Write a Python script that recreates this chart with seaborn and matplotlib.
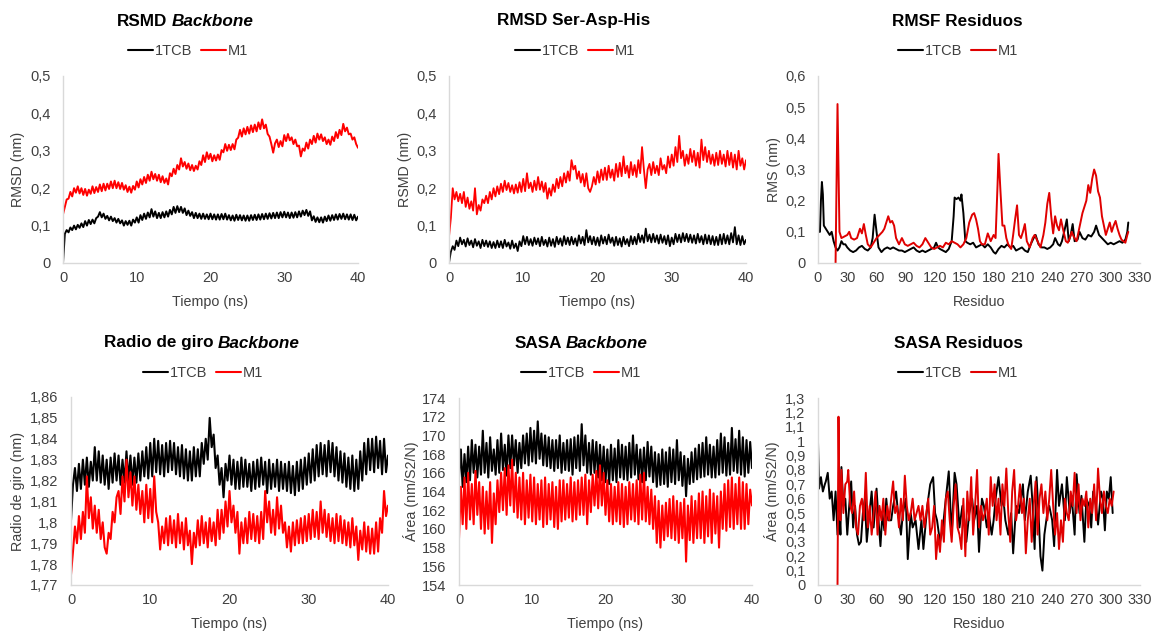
import numpy as np
import pandas as pd
import matplotlib
matplotlib.use("Agg")
import matplotlib.pyplot as plt
from matplotlib.ticker import FuncFormatter, MultipleLocator
from matplotlib.lines import Line2D
import seaborn as sns

sns.set_theme(style="white")
plt.rcParams['font.family'] = ['Liberation Sans', 'DejaVu Sans']

# ---------------- DATA ----------------
series_names = ["1TCB", "M1"]

# RMSD Backbone (nm), sampled every 0.25 ns from 0 to 40 ns
rmsd_bb_1tcb = [
    0.0, 0.078, 0.088, 0.082, 0.095, 0.088, 0.1, 0.09, 0.102, 0.094, 0.106, 0.096,
    0.112, 0.1, 0.115, 0.104, 0.116, 0.106, 0.12, 0.124, 0.136, 0.122, 0.132, 0.118,
    0.126, 0.114, 0.124, 0.112, 0.12, 0.108, 0.118, 0.106, 0.114, 0.1, 0.112, 0.102,
    0.113, 0.1, 0.116, 0.108, 0.122, 0.108, 0.128, 0.115, 0.132, 0.118, 0.135, 0.122,
    0.144, 0.124, 0.138, 0.12, 0.134, 0.12, 0.136, 0.122, 0.138, 0.124, 0.142, 0.13,
    0.15, 0.134, 0.152, 0.136, 0.15, 0.134, 0.146, 0.128, 0.14, 0.126, 0.136, 0.12,
    0.134, 0.12, 0.132, 0.118, 0.132, 0.118, 0.13, 0.117, 0.132, 0.117, 0.13, 0.116,
    0.13, 0.116, 0.131, 0.117, 0.132, 0.116, 0.128, 0.114, 0.127, 0.113, 0.129, 0.115,
    0.128, 0.114, 0.127, 0.113, 0.127, 0.113, 0.128, 0.115, 0.129, 0.115, 0.13, 0.116,
    0.131, 0.117, 0.132, 0.118, 0.133, 0.119, 0.134, 0.12, 0.135, 0.12, 0.136, 0.122,
    0.137, 0.122, 0.135, 0.12, 0.135, 0.121, 0.136, 0.122, 0.138, 0.124, 0.14, 0.128,
    0.142, 0.126, 0.138, 0.114, 0.125, 0.11, 0.122, 0.109, 0.122, 0.108, 0.124, 0.112,
    0.127, 0.113, 0.128, 0.115, 0.13, 0.116, 0.131, 0.118, 0.132, 0.117, 0.13, 0.116,
    0.13, 0.115, 0.129, 0.114, 0.124]
rmsd_bb_m1 = [
    0.13, 0.15, 0.17, 0.172, 0.19, 0.178, 0.2, 0.188, 0.205, 0.186, 0.2, 0.182,
    0.198, 0.18, 0.196, 0.185, 0.205, 0.187, 0.203, 0.19, 0.21, 0.192, 0.212, 0.194,
    0.212, 0.198, 0.218, 0.2, 0.22, 0.2, 0.216, 0.198, 0.214, 0.196, 0.208, 0.19,
    0.204, 0.188, 0.206, 0.196, 0.218, 0.202, 0.224, 0.21, 0.23, 0.214, 0.236, 0.22,
    0.244, 0.224, 0.238, 0.22, 0.236, 0.216, 0.232, 0.214, 0.226, 0.21, 0.24, 0.232,
    0.252, 0.238, 0.262, 0.25, 0.28, 0.258, 0.27, 0.252, 0.266, 0.248, 0.262, 0.246,
    0.26, 0.25, 0.272, 0.262, 0.288, 0.27, 0.296, 0.278, 0.292, 0.272, 0.288, 0.274,
    0.29, 0.276, 0.302, 0.296, 0.318, 0.3, 0.316, 0.302, 0.318, 0.304, 0.33, 0.335,
    0.356, 0.338, 0.36, 0.344, 0.364, 0.346, 0.368, 0.35, 0.37, 0.352, 0.376, 0.358,
    0.384, 0.36, 0.37, 0.345, 0.338, 0.318, 0.295, 0.32, 0.33, 0.31, 0.326, 0.312,
    0.342, 0.326, 0.345, 0.328, 0.336, 0.318, 0.33, 0.312, 0.314, 0.285, 0.306, 0.3,
    0.322, 0.306, 0.33, 0.318, 0.34, 0.322, 0.346, 0.33, 0.344, 0.326, 0.336, 0.318,
    0.33, 0.316, 0.338, 0.326, 0.35, 0.334, 0.356, 0.342, 0.372, 0.352, 0.362, 0.344,
    0.346, 0.33, 0.336, 0.318, 0.308]

# RMSD Ser-Asp-His (nm)
rmsd_sah_1tcb = [
    0.0, 0.03, 0.045, 0.035, 0.06, 0.045, 0.068, 0.05, 0.062, 0.044, 0.066, 0.048,
    0.06, 0.042, 0.064, 0.046, 0.058, 0.04, 0.062, 0.045, 0.06, 0.043, 0.058, 0.04,
    0.056, 0.04, 0.06, 0.042, 0.058, 0.04, 0.062, 0.044, 0.055, 0.038, 0.06, 0.04,
    0.052, 0.032, 0.058, 0.045, 0.072, 0.05, 0.07, 0.048, 0.064, 0.046, 0.068, 0.05,
    0.066, 0.045, 0.07, 0.048, 0.062, 0.044, 0.068, 0.046, 0.064, 0.043, 0.07, 0.05,
    0.066, 0.046, 0.072, 0.05, 0.068, 0.048, 0.07, 0.05, 0.066, 0.046, 0.074, 0.052,
    0.07, 0.048, 0.088, 0.055, 0.072, 0.05, 0.07, 0.048, 0.068, 0.046, 0.074, 0.052,
    0.07, 0.05, 0.076, 0.054, 0.068, 0.046, 0.07, 0.048, 0.066, 0.044, 0.07, 0.05,
    0.064, 0.045, 0.072, 0.05, 0.07, 0.05, 0.078, 0.056, 0.074, 0.054, 0.092, 0.058,
    0.076, 0.055, 0.078, 0.056, 0.074, 0.052, 0.076, 0.054, 0.072, 0.05, 0.074, 0.045,
    0.068, 0.05, 0.078, 0.056, 0.076, 0.055, 0.08, 0.058, 0.078, 0.056, 0.076, 0.054,
    0.074, 0.052, 0.078, 0.055, 0.072, 0.05, 0.076, 0.052, 0.074, 0.05, 0.072, 0.048,
    0.07, 0.048, 0.076, 0.05, 0.078, 0.052, 0.074, 0.05, 0.08, 0.055, 0.096, 0.05,
    0.074, 0.048, 0.072, 0.05, 0.062]
rmsd_sah_m1 = [
    0.07, 0.12, 0.2, 0.17, 0.19, 0.165, 0.185, 0.16, 0.19, 0.15, 0.175, 0.145,
    0.165, 0.14, 0.2, 0.13, 0.155, 0.14, 0.17, 0.16, 0.18, 0.16, 0.19, 0.17,
    0.2, 0.178, 0.205, 0.184, 0.212, 0.19, 0.22, 0.195, 0.214, 0.19, 0.208, 0.186,
    0.21, 0.188, 0.216, 0.19, 0.225, 0.192, 0.24, 0.2, 0.215, 0.19, 0.22, 0.195,
    0.23, 0.196, 0.218, 0.19, 0.214, 0.172, 0.2, 0.18, 0.21, 0.19, 0.225, 0.2,
    0.23, 0.205, 0.24, 0.215, 0.245, 0.22, 0.275, 0.25, 0.26, 0.225, 0.245, 0.215,
    0.238, 0.205, 0.24, 0.2, 0.19, 0.205, 0.23, 0.21, 0.245, 0.215, 0.25, 0.222,
    0.255, 0.222, 0.26, 0.228, 0.25, 0.22, 0.265, 0.23, 0.268, 0.232, 0.285, 0.24,
    0.26, 0.228, 0.27, 0.235, 0.262, 0.23, 0.275, 0.24, 0.31, 0.25, 0.2, 0.25,
    0.265, 0.235, 0.27, 0.24, 0.26, 0.235, 0.28, 0.25, 0.262, 0.24, 0.285, 0.255,
    0.29, 0.26, 0.31, 0.27, 0.34, 0.28, 0.3, 0.26, 0.29, 0.265, 0.305, 0.27,
    0.3, 0.26, 0.295, 0.255, 0.33, 0.275, 0.31, 0.27, 0.3, 0.265, 0.29, 0.26,
    0.295, 0.262, 0.3, 0.265, 0.29, 0.258, 0.3, 0.262, 0.295, 0.255, 0.29, 0.25,
    0.3, 0.26, 0.28, 0.25, 0.275]

# Radio de giro Backbone (nm)
rg_1tcb = [
    1.801, 1.818, 1.826, 1.815, 1.828, 1.816, 1.83, 1.818, 1.831, 1.817, 1.829, 1.82,
    1.836, 1.82, 1.834, 1.819, 1.832, 1.818, 1.83, 1.816, 1.831, 1.819, 1.833, 1.82,
    1.832, 1.818, 1.83, 1.819, 1.834, 1.82, 1.832, 1.818, 1.831, 1.819, 1.833, 1.82,
    1.834, 1.822, 1.836, 1.821, 1.838, 1.822, 1.84, 1.824, 1.839, 1.823, 1.837, 1.822,
    1.838, 1.824, 1.839, 1.825, 1.838, 1.823, 1.836, 1.822, 1.837, 1.821, 1.835, 1.82,
    1.834, 1.82, 1.836, 1.822, 1.835, 1.822, 1.838, 1.828, 1.84, 1.83, 1.85, 1.836,
    1.842, 1.826, 1.832, 1.818, 1.826, 1.812, 1.828, 1.82, 1.832, 1.818, 1.83, 1.816,
    1.829, 1.816, 1.831, 1.817, 1.83, 1.817, 1.828, 1.815, 1.829, 1.816, 1.83, 1.817,
    1.831, 1.818, 1.829, 1.814, 1.83, 1.816, 1.828, 1.817, 1.83, 1.815, 1.829, 1.816,
    1.828, 1.815, 1.829, 1.814, 1.827, 1.813, 1.829, 1.815, 1.83, 1.816, 1.831, 1.818,
    1.833, 1.819, 1.835, 1.82, 1.837, 1.822, 1.838, 1.823, 1.837, 1.822, 1.839, 1.824,
    1.838, 1.822, 1.836, 1.82, 1.834, 1.819, 1.833, 1.817, 1.831, 1.816, 1.832, 1.815,
    1.83, 1.816, 1.834, 1.82, 1.838, 1.823, 1.84, 1.825, 1.84, 1.824, 1.841, 1.826,
    1.839, 1.823, 1.84, 1.824, 1.832]
rg_m1 = [
    1.775, 1.786, 1.798, 1.79, 1.803, 1.792, 1.805, 1.795, 1.822, 1.802, 1.812, 1.797,
    1.808, 1.795, 1.806, 1.792, 1.8, 1.788, 1.785, 1.795, 1.792, 1.805, 1.8, 1.812,
    1.815, 1.804, 1.822, 1.81, 1.83, 1.812, 1.824, 1.808, 1.822, 1.806, 1.818, 1.804,
    1.815, 1.8, 1.818, 1.802, 1.816, 1.8, 1.822, 1.805, 1.8, 1.787, 1.798, 1.79,
    1.802, 1.789, 1.803, 1.79, 1.801, 1.788, 1.804, 1.79, 1.8, 1.787, 1.802, 1.789,
    1.796, 1.78, 1.795, 1.788, 1.801, 1.789, 1.803, 1.79, 1.8, 1.788, 1.802, 1.791,
    1.8, 1.789, 1.806, 1.792, 1.806, 1.795, 1.81, 1.798, 1.815, 1.8, 1.808, 1.795,
    1.805, 1.785, 1.8, 1.79, 1.802, 1.79, 1.805, 1.792, 1.804, 1.791, 1.803, 1.79,
    1.805, 1.792, 1.815, 1.8, 1.81, 1.795, 1.806, 1.794, 1.812, 1.797, 1.808, 1.795,
    1.8, 1.788, 1.798, 1.786, 1.8, 1.789, 1.801, 1.79, 1.802, 1.79, 1.803, 1.791,
    1.804, 1.792, 1.806, 1.793, 1.805, 1.792, 1.81, 1.795, 1.806, 1.793, 1.804, 1.791,
    1.802, 1.79, 1.804, 1.791, 1.803, 1.79, 1.801, 1.789, 1.8, 1.788, 1.802, 1.789,
    1.798, 1.782, 1.796, 1.787, 1.8, 1.786, 1.798, 1.785, 1.797, 1.785, 1.8, 1.786,
    1.802, 1.795, 1.815, 1.803, 1.808]

# SASA Backbone (nm/S2/N)
sasa_bb_1tcb = [
    165.5, 168.5, 164.5, 168, 165, 168.8, 165.2, 169.5, 166, 169, 165.5, 168.8,
    165.8, 170.5, 166, 169.2, 165.5, 169.8, 166.2, 168.5, 165.8, 169.5, 166, 170.2,
    166.3, 169, 165.7, 170, 166.5, 170, 166.8, 169.5, 166, 169.2, 166.5, 170,
    167, 170.2, 166.8, 170.8, 167.2, 170.5, 167, 171.5, 167.5, 170.2, 166.8, 170,
    166.7, 169.8, 166.5, 169.5, 166.2, 169.5, 166.5, 170, 166, 169.2, 166.3, 169.5,
    166.2, 169.6, 165.8, 169.8, 166.5, 170, 166.2, 171.2, 166.8, 170, 166, 169.2,
    165.8, 169.5, 166, 169.3, 165.5, 169, 165.2, 168.8, 165, 168.5, 164.8, 169,
    165.2, 168.6, 165, 169.5, 165.5, 169, 165.3, 168.8, 165.2, 169.2, 165.5, 170,
    165.8, 169, 165.3, 168.5, 165, 168.7, 165.2, 169.3, 165.6, 168.8, 165, 168.2,
    164.5, 168, 164.7, 168.5, 164.8, 168.2, 164.5, 168.7, 165, 168.5, 164.8, 169.5,
    165.2, 168.2, 164.6, 167.8, 163.5, 167.5, 164.8, 168.2, 165, 168.6, 165.3, 169,
    165.5, 169.2, 165.6, 169.8, 165.8, 169, 165.5, 168.8, 165.5, 169.5, 165.8, 170.2,
    166, 169.8, 165.7, 169.2, 165.8, 170.8, 166.2, 169.6, 166, 170.5, 165.8, 169.8,
    165.6, 169.5, 166, 169.3, 166.5]
sasa_bb_m1 = [
    159, 164.5, 160.5, 165.5, 160, 166, 161, 164.8, 160.5, 166.2, 161.5, 165,
    160, 164.5, 159.5, 164, 160, 165, 158.5, 163.8, 160.5, 165.2, 161.8, 166,
    162, 166.5, 161.5, 166.8, 162.5, 167.4, 161.8, 166, 161.2, 165.5, 161, 166,
    160.5, 165.2, 161.2, 165.8, 160.8, 165.5, 160.5, 164.8, 161, 165.2, 160.2, 165.5,
    160.5, 164.8, 161, 165, 160.2, 164.5, 160, 165.2, 160.8, 165.2, 161, 164.8,
    161.2, 165.5, 160.8, 165, 161, 165.2, 161.5, 165.5, 161.5, 165.8, 160.5, 165.2,
    161.8, 165.8, 162.5, 166.2, 162.2, 166.8, 162.5, 166, 161.5, 165.2, 160.8, 164.8,
    160.5, 164.5, 160.8, 165, 160.5, 164.8, 160.2, 164.5, 160.5, 165, 161, 164.8,
    160.8, 165.2, 160.5, 165.8, 161, 166, 160.8, 164.5, 160.5, 164.2, 160, 163.5,
    158.5, 163, 158, 162.5, 158.8, 162.8, 159.2, 163.2, 159, 163.5, 158.8, 163,
    158.5, 162.8, 159, 163.2, 156.5, 162.5, 158.8, 163.5, 158.5, 163, 159, 163.8,
    159, 164, 158.5, 163.5, 159.2, 164.2, 158.5, 163.8, 159.5, 163.5, 158, 164,
    160, 164.8, 159.8, 165.2, 160.2, 165.5, 160, 164.8, 160.5, 165.5, 160, 165,
    160, 164.8, 160.5, 164.2, 162.5]

# RMSF per residue (nm)
rmsf_res_1tcb = [1, 2, 3, 4, 5, 6, 8, 10, 12, 14, 16, 18, 20, 22, 24, 26, 28, 30, 33, 36,
                 39, 42, 45, 48, 51, 54, 56, 58, 60, 62, 65, 68, 71, 74, 77, 80, 83, 86, 89, 92,
                 95, 98, 101, 104, 107, 110, 113, 116, 119, 121, 123, 125, 128, 131, 134, 137, 139, 140, 142, 144,
                 146, 147, 149, 151, 153, 156, 159, 162, 165, 168, 171, 174, 177, 180, 182, 185, 188, 191, 194, 197,
                 200, 203, 206, 209, 212, 215, 218, 221, 223, 226, 229, 232, 235, 238, 241, 243, 246, 248, 250, 253,
                 255, 257, 259, 261, 263, 266, 268, 271, 274, 277, 280, 283, 285, 288, 291, 294, 297, 300, 303, 306,
                 309, 312, 315, 317, 318]
rmsf_val_1tcb = [0.1, 0.1, 0.2, 0.26, 0.22, 0.12, 0.11, 0.1, 0.09, 0.1, 0.07, 0.05, 0.04, 0.05, 0.07, 0.06, 0.06, 0.05, 0.04, 0.035,
                 0.04, 0.05, 0.055, 0.045, 0.04, 0.05, 0.08, 0.155, 0.1, 0.05, 0.035, 0.045, 0.05, 0.045, 0.05, 0.045, 0.04, 0.04, 0.035, 0.04,
                 0.045, 0.05, 0.04, 0.035, 0.04, 0.035, 0.04, 0.045, 0.05, 0.065, 0.05, 0.045, 0.04, 0.035, 0.045, 0.07, 0.15, 0.21, 0.205, 0.21,
                 0.2, 0.22, 0.16, 0.07, 0.065, 0.06, 0.065, 0.05, 0.055, 0.06, 0.05, 0.06, 0.05, 0.035, 0.03, 0.045, 0.055, 0.05, 0.06, 0.05,
                 0.055, 0.04, 0.045, 0.05, 0.04, 0.035, 0.06, 0.08, 0.09, 0.06, 0.05, 0.05, 0.045, 0.05, 0.06, 0.08, 0.06, 0.055, 0.07, 0.11,
                 0.14, 0.07, 0.09, 0.125, 0.07, 0.075, 0.1, 0.08, 0.075, 0.09, 0.085, 0.1, 0.12, 0.09, 0.08, 0.07, 0.06, 0.065, 0.06, 0.065,
                 0.07, 0.065, 0.075, 0.1, 0.13]
rmsf_res_m1 = [18, 20, 22, 24, 27, 30, 32, 34, 37, 40, 43, 45, 47, 49, 51, 54, 57, 60, 63, 66,
               68, 70, 72, 74, 76, 78, 80, 83, 86, 89, 92, 95, 98, 101, 104, 107, 110, 113, 116, 119,
               122, 125, 128, 131, 134, 137, 140, 143, 146, 149, 152, 155, 158, 160, 162, 164, 166, 168, 171, 174,
               177, 180, 182, 184, 185, 187, 189, 191, 193, 195, 198, 200, 202, 204, 206, 208, 210, 212, 214, 217,
               220, 222, 225, 228, 231, 233, 235, 237, 239, 241, 243, 245, 247, 249, 251, 254, 256, 258, 260, 262,
               265, 267, 269, 271, 273, 275, 277, 279, 281, 283, 285, 287, 289, 291, 293, 295, 297, 299, 301, 303,
               305, 307, 309, 311, 313, 315, 317, 318]
rmsf_val_m1 = [0.0, 0.51, 0.1, 0.08, 0.085, 0.09, 0.1, 0.08, 0.075, 0.08, 0.11, 0.095, 0.125, 0.09, 0.06, 0.05, 0.065, 0.08, 0.09, 0.1,
               0.11, 0.13, 0.15, 0.13, 0.135, 0.12, 0.08, 0.06, 0.08, 0.06, 0.055, 0.06, 0.065, 0.055, 0.05, 0.06, 0.08, 0.065, 0.05, 0.045,
               0.05, 0.055, 0.05, 0.065, 0.06, 0.07, 0.065, 0.06, 0.05, 0.06, 0.08, 0.13, 0.155, 0.16, 0.14, 0.11, 0.07, 0.06, 0.06, 0.095,
               0.07, 0.09, 0.08, 0.25, 0.35, 0.23, 0.12, 0.12, 0.08, 0.06, 0.045, 0.09, 0.14, 0.185, 0.09, 0.08, 0.1, 0.125, 0.07, 0.05,
               0.08, 0.09, 0.07, 0.05, 0.09, 0.13, 0.19, 0.225, 0.15, 0.095, 0.15, 0.12, 0.105, 0.14, 0.11, 0.07, 0.065, 0.08, 0.1, 0.085,
               0.07, 0.1, 0.13, 0.16, 0.18, 0.2, 0.25, 0.225, 0.27, 0.3, 0.28, 0.23, 0.21, 0.15, 0.12, 0.09, 0.11, 0.13, 0.1, 0.12,
               0.135, 0.11, 0.09, 0.075, 0.07, 0.065, 0.09, 0.1]

# SASA per residue (nm/S2/N)
sasa_res_1tcb = [0, 1, 3, 5, 7, 8, 10, 12, 14, 16, 18, 20, 22, 23, 24, 26, 28, 30, 32, 34,
                 36, 38, 40, 42, 44, 46, 48, 50, 52, 55, 57, 60, 62, 64, 66, 68, 70, 72, 75, 77,
                 80, 82, 85, 87, 90, 92, 95, 97, 100, 103, 106, 108, 110, 112, 115, 118, 120, 122, 125, 128,
                 131, 134, 137, 140, 142, 145, 148, 150, 152, 155, 158, 160, 163, 165, 168, 170, 173, 175, 178, 180,
                 182, 185, 188, 190, 192, 195, 198, 200, 203, 206, 208, 210, 212, 215, 218, 220, 222, 224, 226, 228,
                 230, 232, 235, 237, 240, 242, 245, 247, 250, 253, 255, 258, 260, 263, 265, 268, 270, 273, 275, 278,
                 280, 282, 285, 287, 290, 292, 294, 296, 298, 300, 302]
sasa_val_1tcb = [1.0, 0.67, 0.75, 0.65, 0.7, 0.72, 0.78, 0.6, 0.65, 0.45, 0.65, 0.35, 0.5, 0.35, 0.82, 0.55, 0.6, 0.35, 0.55, 0.72,
                 0.4, 0.55, 0.35, 0.28, 0.3, 0.5, 0.6, 0.3, 0.45, 0.65, 0.4, 0.67, 0.45, 0.27, 0.5, 0.38, 0.6, 0.45, 0.45, 0.55,
                 0.65, 0.5, 0.35, 0.5, 0.6, 0.18, 0.5, 0.4, 0.45, 0.25, 0.45, 0.25, 0.4, 0.55, 0.7, 0.75, 0.5, 0.45, 0.3, 0.4,
                 0.6, 0.79, 0.35, 0.78, 0.7, 0.4, 0.55, 0.45, 0.3, 0.5, 0.6, 0.45, 0.55, 0.23, 0.6, 0.55, 0.4, 0.5, 0.35, 0.45,
                 0.6, 0.75, 0.55, 0.6, 0.45, 0.35, 0.5, 0.22, 0.55, 0.5, 0.6, 0.7, 0.45, 0.65, 0.76, 0.55, 0.25, 0.75, 0.5, 0.2,
                 0.1, 0.35, 0.5, 0.55, 0.45, 0.27, 0.8, 0.55, 0.7, 0.45, 0.75, 0.5, 0.62, 0.35, 0.77, 0.5, 0.62, 0.3, 0.6, 0.55,
                 0.4, 0.65, 0.55, 0.42, 0.65, 0.6, 0.38, 0.65, 0.6, 0.75, 0.5]
sasa_res_m1 = [20, 21, 22, 23, 24, 26, 28, 30, 31, 33, 35, 37, 39, 41, 43, 45, 47, 49, 51, 53,
               55, 57, 59, 61, 63, 65, 67, 69, 71, 73, 75, 77, 79, 81, 83, 85, 87, 89, 91, 93,
               95, 97, 99, 101, 103, 105, 107, 109, 111, 113, 115, 117, 119, 121, 123, 125, 127, 129, 131, 133,
               135, 137, 139, 141, 143, 145, 147, 149, 151, 153, 155, 157, 159, 161, 163, 165, 167, 169, 171, 173,
               175, 177, 179, 181, 183, 185, 187, 189, 191, 193, 195, 197, 199, 201, 203, 205, 207, 209, 211, 213,
               215, 217, 219, 221, 223, 225, 227, 229, 231, 233, 235, 237, 239, 241, 243, 245, 247, 249, 251, 253,
               255, 257, 259, 261, 263, 265, 267, 269, 271, 273, 275, 277, 279, 281, 283, 285, 287, 289, 291, 293,
               295, 297, 299, 301, 303]
sasa_val_m1 = [0.0, 1.17, 0.55, 0.45, 0.8, 0.5, 0.7, 0.72, 0.8, 0.55, 0.5, 0.65, 0.4, 0.35, 0.55, 0.6, 0.45, 0.78, 0.4, 0.55,
               0.35, 0.5, 0.65, 0.35, 0.55, 0.45, 0.6, 0.35, 0.55, 0.45, 0.6, 0.72, 0.5, 0.55, 0.4, 0.6, 0.45, 0.76, 0.55, 0.45,
               0.5, 0.6, 0.45, 0.5, 0.55, 0.45, 0.55, 0.4, 0.5, 0.6, 0.35, 0.4, 0.55, 0.18, 0.35, 0.23, 0.45, 0.3, 0.6, 0.65,
               0.45, 0.3, 0.55, 0.7, 0.4, 0.35, 0.25, 0.6, 0.2, 0.65, 0.45, 0.75, 0.35, 0.55, 0.8, 0.4, 0.55, 0.45, 0.5, 0.6,
               0.35, 0.75, 0.55, 0.7, 0.45, 0.6, 0.35, 0.7, 0.55, 0.81, 0.5, 0.3, 0.65, 0.8, 0.45, 0.55, 0.7, 0.5, 0.6, 0.22,
               0.45, 0.6, 0.3, 0.55, 0.72, 0.35, 0.6, 0.7, 0.5, 0.65, 0.45, 0.6, 0.8, 0.55, 0.35, 0.5, 0.25, 0.45, 0.3, 0.6,
               0.5, 0.45, 0.65, 0.55, 0.78, 0.5, 0.7, 0.45, 0.6, 0.55, 0.65, 0.4, 0.6, 0.5, 0.7, 0.45, 0.81, 0.6, 0.5, 0.65,
               0.55, 0.5, 0.6, 0.55, 0.65]

# ---------------- STYLE ----------------
W, H = 1156, 631
BLACK = "#000000"
RED = "#ff0000"
RED_RES = "#e00000"
AXIS_GRAY = "#d9d9d9"
TXT = "#404040"


def comma_fmt(v, pos):
    s = f"{v:.2f}".rstrip('0').rstrip('.')
    if s in ('-0', ''):
        s = '0'
    return s.replace('.', ',')


def px_axes(x0, y0, x1, y1):
    return [x0 / W, 1 - y1 / H, (x1 - x0) / W, (y1 - y0) / H]


fig = plt.figure(figsize=(W / 100, H / 100), dpi=100)
fig.patch.set_facecolor("white")

panels = [
    dict(box=(63, 76, 358, 263), title=[("RSMD", 'normal', 167, 'right'), ("Backbone", 'italic', 172, 'left')],
         ty=21, leg=(188, 51), ylabel="RMSD (nm)", ylab_x=18, xlabel="Tiempo (ns)",
         ylim=(0, 0.5), ystep=0.1, xlim=(0, 40), xstep=10,
         data=[(None, rmsd_bb_1tcb), (None, rmsd_bb_m1)], lw=1.4, red=RED),
    dict(box=(449, 76, 746, 263), title=[("RMSD Ser-Asp-His", 'normal', 574, 'center')],
         ty=21, leg=(575, 51), ylabel="RSMD (nm)", ylab_x=405, xlabel="Tiempo (ns)",
         ylim=(0, 0.5), ystep=0.1, xlim=(0, 40), xstep=10,
         data=[(None, rmsd_sah_1tcb), (None, rmsd_sah_m1)], lw=1.3, red=RED),
    dict(box=(818, 76, 1140, 263), title=[("RMSF Residuos", 'normal', 957, 'center')],
         ty=21, leg=(958, 51), ylabel="RMS (nm)", ylab_x=774, xlabel="Residuo",
         ylim=(0, 0.6), ystep=0.1, xlim=(0, 330), xstep=30,
         data=[(rmsf_res_1tcb, rmsf_val_1tcb), (rmsf_res_m1, rmsf_val_m1)], lw=1.4, red=RED_RES),
    dict(box=(71, 397, 388, 585), title=[("Radio de giro", 'normal', 213, 'right'), ("Backbone", 'italic', 218, 'left')],
         ty=343, leg=(203, 373), ylabel="Radio de giro (nm)", ylab_x=18, xlabel="Tiempo (ns)",
         ylim=(1.77, 1.86), ystep=0.01, xlim=(0, 40), xstep=10,
         data=[(None, rg_1tcb), (None, rg_m1)], lw=1.5, red=RED),
    dict(box=(459, 398, 752, 585), title=[("SASA", 'normal', 562, 'right'), ("Backbone", 'italic', 566, 'left')],
         ty=343, leg=(581, 373), ylabel="Área (nm/S2/N)", ylab_x=412, xlabel="Tiempo (ns)",
         ylim=(154, 174), ystep=2, xlim=(0, 40), xstep=10,
         data=[(None, sasa_bb_1tcb), (None, sasa_bb_m1)], lw=1.5, red=RED),
    dict(box=(818, 398, 1140, 585), title=[("SASA Residuos", 'normal', 958, 'center')],
         ty=343, leg=(958, 373), ylabel="Área (nm/S2/N)", ylab_x=773, xlabel="Residuo",
         ylim=(0, 1.3), ystep=0.1, xlim=(0, 330), xstep=30,
         data=[(sasa_res_1tcb, sasa_val_1tcb), (sasa_res_m1, sasa_val_m1)], lw=1.4, red=RED_RES),
]

for p in panels:
    x0, y0, x1, y1 = p['box']
    ax = fig.add_axes(px_axes(x0, y0, x1, y1))
    ax.set_facecolor("white")
    colors = [BLACK, p['red']]
    for (xs, ys), name, col in zip(p['data'], series_names, colors):
        if xs is None:
            xs = np.linspace(p['xlim'][0], p['xlim'][1], len(ys))
        df = pd.DataFrame({"x": xs, "y": ys})
        sns.lineplot(data=df, x="x", y="y", ax=ax, color=col, linewidth=p['lw'],
                     estimator=None, sort=False, legend=False)
    ax.set_xlim(*p['xlim'])
    ax.set_ylim(*p['ylim'])
    ax.xaxis.set_major_locator(MultipleLocator(p['xstep']))
    ax.yaxis.set_major_locator(MultipleLocator(p['ystep']))
    ax.yaxis.set_major_formatter(FuncFormatter(comma_fmt))
    ax.xaxis.set_major_formatter(FuncFormatter(comma_fmt))
    ax.tick_params(axis='both', length=0, labelsize=10.5, labelcolor=TXT)
    ax.tick_params(axis='y', pad=9)
    ax.tick_params(axis='x', pad=6)
    for s in ['top', 'right']:
        ax.spines[s].set_visible(False)
    for s in ['left', 'bottom']:
        ax.spines[s].set_color(AXIS_GRAY)
        ax.spines[s].set_linewidth(1.0)
    ax.grid(False)
    ax.set_xlabel(p['xlabel'], fontsize=10.3, color=TXT)
    ax.set_ylabel(p['ylabel'], fontsize=10.3, color=TXT)
    ax.xaxis.set_label_coords(0.5, -0.17)
    ax.yaxis.set_label_coords((p['ylab_x'] + 7 - x0) / (x1 - x0), 0.5)

    # Title
    for txt, style, tx, ha in p['title']:
        fig.text(tx / W, 1 - p['ty'] / H, txt, fontsize=12.3, fontweight='bold',
                 fontstyle=style, ha=ha, va='center', color='black')

    # Legend
    handles = [Line2D([0], [0], color=BLACK, lw=1.5), Line2D([0], [0], color=p['red'], lw=1.5)]
    lx, ly = p['leg']
    ax.legend(handles, series_names, loc='center', bbox_to_anchor=(lx / W, 1 - ly / H),
              bbox_transform=fig.transFigure, ncol=2, frameon=False, fontsize=10.5,
              handlelength=1.7, handletextpad=0.15, columnspacing=0.6, labelcolor=TXT,
              borderaxespad=0, borderpad=0)

fig.savefig("out.png", dpi=100, facecolor="white")
